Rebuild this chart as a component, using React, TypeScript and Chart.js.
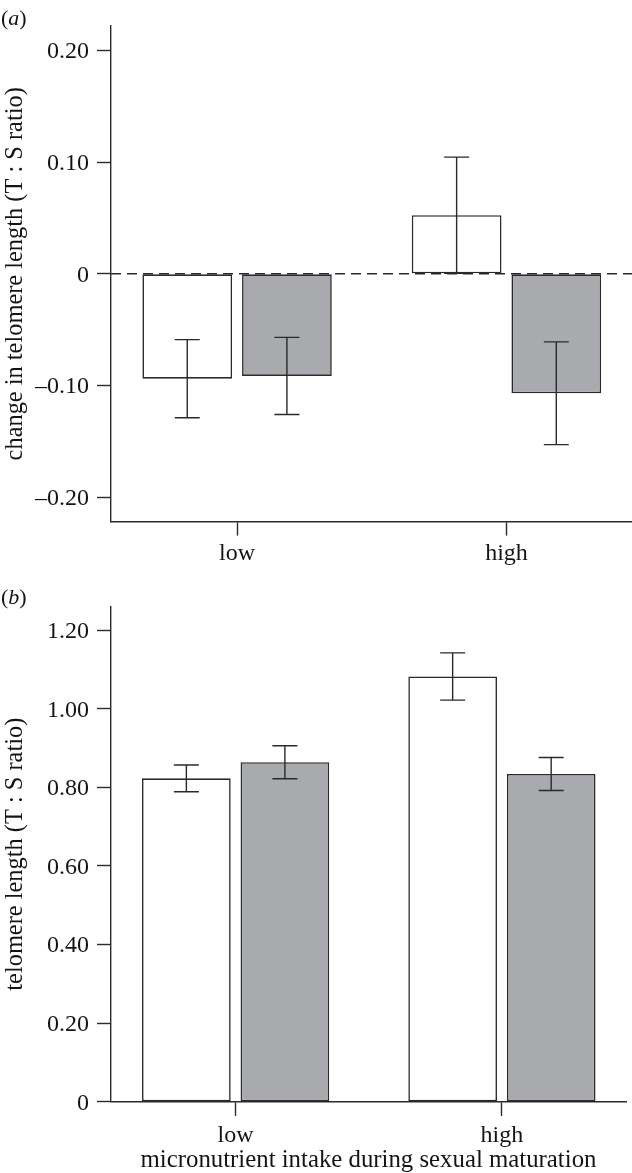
import React, { useEffect, useRef } from 'react';
import { Chart, registerables } from 'chart.js';
Chart.register(...registerables);

const FONT = "'Liberation Serif', 'DejaVu Serif', 'Times New Roman', serif";
const INK = '#2a2a2a';
const TEXT = '#141414';
const GRAY = '#a9aaae';

// shared categories (micronutrient intake during sexual maturation)
const categories = ['low', 'high'];
const categoryX = [0, 1];

// panel (a): change in telomere length (T : S ratio)
const aWhite = [-0.094, 0.0525];
const aWhiteErr = [0.035, 0.052];
const aGray = [-0.0915, -0.107];
const aGrayErr = [0.0345, 0.046];
const aTicks = [-0.2, -0.1, 0, 0.1, 0.2];

// panel (b): telomere length (T : S ratio)
const bWhite = [0.823, 1.082];
const bWhiteErr = [0.034, 0.06];
const bGray = [0.864, 0.834];
const bGrayErr = [0.042, 0.042];
const bTicks = [0, 0.2, 0.4, 0.6, 0.8, 1.0, 1.2];

const fmt = (v: number) => {
  if (Math.abs(v) < 1e-9) return '0';
  return (v < 0 ? '\u2013' : '') + Math.abs(v).toFixed(2);
};

const errorBarPlugin = {
  id: 'errorBars',
  afterDatasetsDraw(chart: any) {
    const ctx = chart.ctx;
    const ys = chart.scales.y;
    chart.data.datasets.forEach((ds: any, di: number) => {
      const errs = ds.errors;
      if (!errs) return;
      const meta = chart.getDatasetMeta(di);
      meta.data.forEach((bar: any, i: number) => {
        const v = ds.data[i].y;
        const e = errs[i];
        const yt = ys.getPixelForValue(v + e);
        const yb = ys.getPixelForValue(v - e);
        const half = 12.5;
        ctx.save();
        ctx.strokeStyle = INK;
        ctx.lineWidth = 1.4;
        ctx.beginPath();
        ctx.moveTo(bar.x, yt);
        ctx.lineTo(bar.x, yb);
        ctx.moveTo(bar.x - half, yt);
        ctx.lineTo(bar.x + half, yt);
        ctx.moveTo(bar.x - half, yb);
        ctx.lineTo(bar.x + half, yb);
        ctx.stroke();
        ctx.restore();
      });
    });
  },
};

const zeroLinePlugin = {
  id: 'zeroLine',
  beforeDatasetsDraw(chart: any, _args: any, opts: any) {
    if (!opts || !opts.display) return;
    const ctx = chart.ctx;
    const y = chart.scales.y.getPixelForValue(0);
    const { left, right } = chart.chartArea;
    ctx.save();
    ctx.strokeStyle = INK;
    ctx.lineWidth = 1.4;
    ctx.setLineDash([10, 6]);
    ctx.beginPath();
    ctx.moveTo(left, y);
    ctx.lineTo(right, y);
    ctx.stroke();
    ctx.restore();
  },
};

const panelLabelPlugin = {
  id: 'panelLabel',
  afterDraw(chart: any, _args: any, opts: any) {
    if (!opts || !opts.letter) return;
    const ctx = chart.ctx;
    ctx.save();
    ctx.fillStyle = TEXT;
    ctx.textBaseline = 'alphabetic';
    ctx.textAlign = 'left';
    let x = opts.x;
    const y = opts.y;
    ctx.font = `${opts.size}px ${FONT}`;
    ctx.fillText('(', x, y);
    x += ctx.measureText('(').width;
    ctx.font = `italic ${opts.size}px ${FONT}`;
    ctx.fillText(opts.letter, x, y);
    x += ctx.measureText(opts.letter).width;
    ctx.font = `${opts.size}px ${FONT}`;
    ctx.fillText(')', x, y);
    ctx.restore();
  },
};

type PanelProps = {
  top: number;
  height: number;
  padTop: number;
  padRight: number;
  xAxisHeight: number;
  xTickPad: number;
  letter: string;
  letterY: number;
  yMin: number;
  yMax: number;
  ticks: number[];
  yTitle: string;
  xTitle?: string;
  zero: boolean;
  white: number[];
  whiteErr: number[];
  gray: number[];
  grayErr: number[];
};

function Panel(p: PanelProps) {
  const ref = useRef<HTMLCanvasElement>(null);
  useEffect(() => {
    if (!ref.current) return;
    const tickFont = { family: FONT, size: 24 };
    const chart = new Chart(ref.current, {
      type: 'bar',
      data: {
        datasets: [
          {
            data: categoryX.map((x, i) => ({ x, y: p.white[i] })),
            backgroundColor: '#ffffff',
            borderColor: INK,
            borderWidth: 1.6,
            borderSkipped: false,
            categoryPercentage: 0.74,
            barPercentage: 0.9,
            errors: p.whiteErr,
          } as any,
          {
            data: categoryX.map((x, i) => ({ x, y: p.gray[i] })),
            backgroundColor: GRAY,
            borderColor: INK,
            borderWidth: 1.6,
            borderSkipped: false,
            categoryPercentage: 0.74,
            barPercentage: 0.9,
            errors: p.grayErr,
          } as any,
        ],
      },
      options: {
        responsive: false,
        animation: false,
        devicePixelRatio: 1,
        layout: { padding: { top: p.padTop, right: p.padRight, left: 0, bottom: 0 } },
        plugins: {
          legend: { display: false },
          tooltip: { enabled: false },
          zeroLine: { display: p.zero },
          panelLabel: { letter: p.letter, x: 1, y: p.letterY, size: 22 },
        } as any,
        scales: {
          x: {
            type: 'linear',
            offset: false,
            min: -0.468,
            max: 1.466,
            afterBuildTicks: (s: any) => {
              s.ticks = categoryX.map((v) => ({ value: v }));
            },
            afterFit: (s: any) => {
              s.height = p.xAxisHeight;
            },
            grid: {
              offset: false,
              drawOnChartArea: false,
              drawTicks: true,
              tickLength: 14,
              tickColor: INK,
              tickWidth: 1.4,
            },
            border: { display: true, color: INK, width: 1.4 },
            ticks: {
              padding: p.xTickPad,
              font: tickFont,
              color: TEXT,
              maxRotation: 0,
              autoSkip: false,
              callback: (v: any) => {
                const idx = categoryX.indexOf(Number(v));
                return idx >= 0 ? categories[idx] : '';
              },
            },
            title: p.xTitle
              ? {
                  display: true,
                  text: p.xTitle,
                  font: { family: FONT, size: 24.8, lineHeight: 1 },
                  color: TEXT,
                  padding: { top: 0, bottom: 0.2 },
                }
              : { display: false },
          },
          y: {
            type: 'linear',
            min: p.yMin,
            max: p.yMax,
            afterBuildTicks: (s: any) => {
              s.ticks = p.ticks.map((v) => ({ value: v }));
            },
            afterFit: (s: any) => {
              s.width = 111;
            },
            grid: {
              drawOnChartArea: false,
              drawTicks: true,
              tickLength: 14,
              tickColor: INK,
              tickWidth: 1.4,
            },
            border: { display: true, color: INK, width: 1.4 },
            ticks: {
              padding: 8,
              labelOffset: 1.5,
              font: tickFont,
              color: TEXT,
              callback: (v: any) => fmt(Number(v)),
            },
            title: {
              display: true,
              text: p.yTitle,
              font: { family: FONT, size: 24.4, lineHeight: 1 },
              color: TEXT,
              padding: { top: 3, bottom: 0 },
            },
          },
        },
      } as any,
      plugins: [zeroLinePlugin, errorBarPlugin, panelLabelPlugin],
    });
    return () => chart.destroy();
  }, []);
  return (
    <canvas
      ref={ref}
      width={632}
      height={p.height}
      style={{ position: 'absolute', left: 0, top: p.top, width: 632, height: p.height, display: 'block' }}
    />
  );
}

export default function App() {
  return (
    <div style={{ position: 'absolute', left: 0, top: 0, width: 632, height: 1173, background: '#fff' }}>
      <Panel
        top={0}
        height={580}
        padTop={26}
        padRight={0}
        xAxisHeight={58.4}
        xTickPad={4}
        letter="a"
        letterY={24.5}
        yMin={-0.222}
        yMax={0.222}
        ticks={aTicks}
        yTitle="change in telomere length (T : S ratio)"
        zero={true}
        white={aWhite}
        whiteErr={aWhiteErr}
        gray={aGray}
        grayErr={aGrayErr}
      />
      <Panel
        top={580}
        height={593}
        padTop={26.5}
        padRight={6}
        xAxisHeight={71.1}
        xTickPad={5}
        letter="b"
        letterY={23.8}
        yMin={0}
        yMax={1.26}
        ticks={bTicks}
        yTitle="telomere length (T : S ratio)"
        xTitle="micronutrient intake during sexual maturation"
        zero={false}
        white={bWhite}
        whiteErr={bWhiteErr}
        gray={bGray}
        grayErr={bGrayErr}
      />
    </div>
  );
}
